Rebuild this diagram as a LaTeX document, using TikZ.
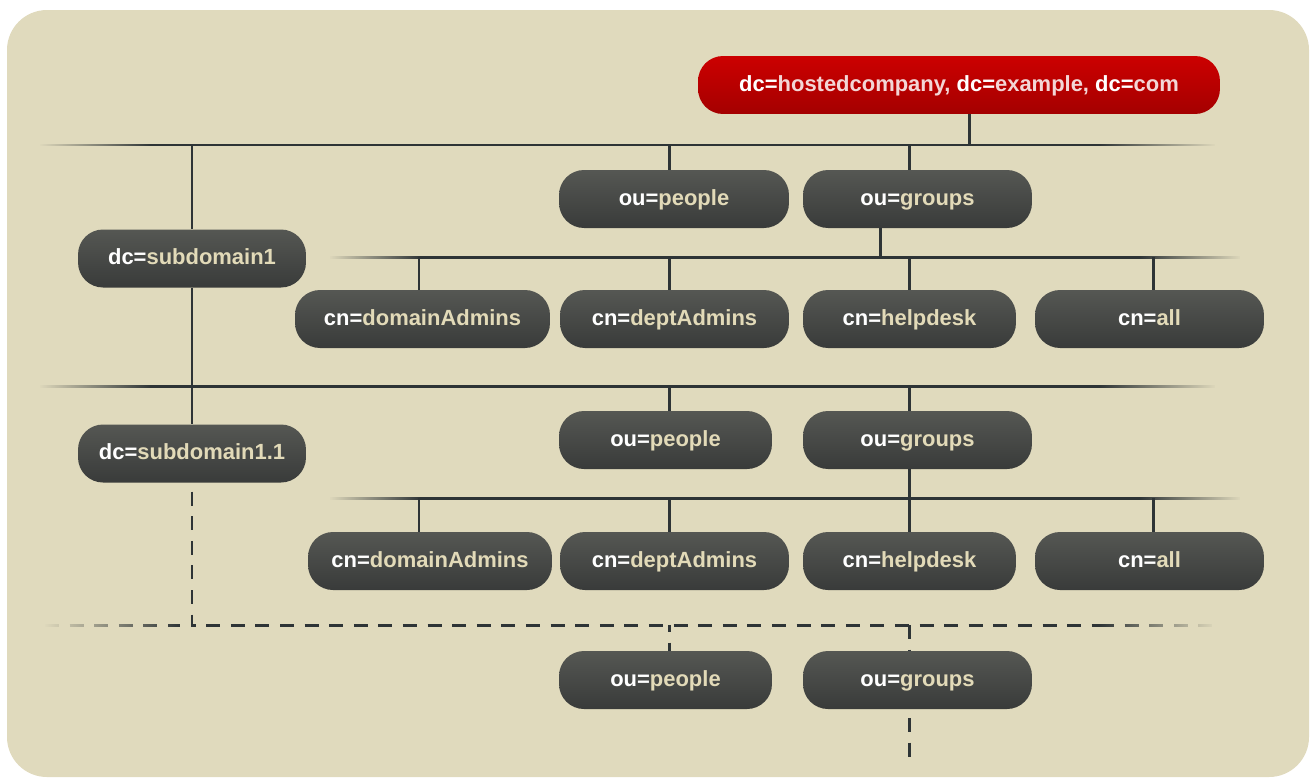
\documentclass[tikz,border=0pt]{standalone}
\usepackage{fontspec}
\setmainfont{Liberation Sans}
\usetikzlibrary{positioning, fadings}
\definecolor{ldapbg}{HTML}{E0DABD}
\definecolor{ldapline}{HTML}{2E3436}
\definecolor{ldaptop}{HTML}{555753}
\definecolor{ldapbot}{HTML}{393B3A}
\definecolor{ldapred}{HTML}{CC0000}
\definecolor{ldapdred}{HTML}{A40000}
\definecolor{ldaptext}{HTML}{E2DAB8}
\definecolor{ldappink}{HTML}{F3D6D6}

\newcommand{\rdn}[2]{\textcolor{white}{#1=}#2}

\begin{document}
\begin{tikzpicture}[x=0.02cm, y=-0.02cm,
    entry/.style={rounded corners=0.5cm, minimum height=1.16cm, inner sep=0pt,
        top color=ldaptop, bottom color=ldapbot, text=ldaptext,
        text height=9.5pt, text depth=2.5pt,
        font=\fontsize{12.5}{15}\selectfont\bfseries},
    rootentry/.style={entry, top color=ldapred, bottom color=ldapdred, text=ldappink},
    link/.style={draw=ldapline, line width=1.7pt},
    dashlink/.style={link, dash pattern=on 8pt off 6pt},
]
    \useasboundingbox (0,0) rectangle (1311,778);
    \fill[ldapbg, rounded corners=0.8cm] (7,10) rectangle (1309,777);

    % columns and bus levels
    \coordinate (xA) at (192,0);
    \coordinate (xB) at (419,0);
    \coordinate (xC) at (669,0);
    \coordinate (xD) at (909,0);
    \coordinate (xE) at (1153,0);
    \coordinate (xG) at (880,0);
    \coordinate (xR) at (969,0);
    \coordinate (busA) at (0,145);
    \coordinate (busB) at (0,257);
    \coordinate (busC) at (0,386);
    \coordinate (busD) at (0,498);
    \coordinate (busE) at (0,625);

    % root
    \node[rootentry, minimum width=10.44cm] (root) at (959,85)
        {\rdn{dc}{hostedcompany}, \rdn{dc}{example}, \rdn{dc}{com}};

    % first level
    \node[entry, minimum width=4.56cm] (sub1) at (192,258.5) {\rdn{dc}{subdomain1}};
    \node[entry, minimum width=4.6cm] (people1) at (674,199) {\rdn{ou}{people}};
    \node[entry, minimum width=4.58cm] (groups1) at (917.5,199) {\rdn{ou}{groups}};
    \node[entry, minimum width=5.1cm] (dadmins1) at (422.5,319) {\rdn{cn}{domainAdmins}};
    \node[entry, minimum width=4.58cm] (deptadm1) at (674.5,319) {\rdn{cn}{deptAdmins}};
    \node[entry, minimum width=4.26cm] (helpdesk1) at (909.5,319) {\rdn{cn}{helpdesk}};
    \node[entry, minimum width=4.58cm] (all1) at (1149.5,319) {\rdn{cn}{all}};

    % second level
    \node[entry, minimum width=4.56cm] (sub2) at (192,453.5) {\rdn{dc}{subdomain1.1}};
    \node[entry, minimum width=4.26cm] (people2) at (665.5,440) {\rdn{ou}{people}};
    \node[entry, minimum width=4.58cm] (groups2) at (917.5,440) {\rdn{ou}{groups}};
    \node[entry, minimum width=4.88cm] (dadmins2) at (430,561) {\rdn{cn}{domainAdmins}};
    \node[entry, minimum width=4.58cm] (deptadm2) at (674.5,561) {\rdn{cn}{deptAdmins}};
    \node[entry, minimum width=4.26cm] (helpdesk2) at (909.5,561) {\rdn{cn}{helpdesk}};
    \node[entry, minimum width=4.58cm] (all2) at (1149.5,561) {\rdn{cn}{all}};

    % third level
    \node[entry, minimum width=4.26cm] (people3) at (665.5,680) {\rdn{ou}{people}};
    \node[entry, minimum width=4.58cm] (groups3) at (917.5,680) {\rdn{ou}{groups}};
    \coordinate (tail) at (909,765);

    % buses
    \draw[link, path fading=west] (40,145) -- (150,145);
    \draw[link] (150,145) -- (1100,145);
    \draw[link, path fading=east] (1100,145) -- (1215,145);
    \draw[link, path fading=west] (330,257) -- (420,257);
    \draw[link] (420,257) -- (1140,257);
    \draw[link, path fading=east] (1140,257) -- (1240,257);
    \draw[link, path fading=west] (40,386) -- (150,386);
    \draw[link] (150,386) -- (1100,386);
    \draw[link, path fading=east] (1100,386) -- (1215,386);
    \draw[link, path fading=west] (330,498) -- (420,498);
    \draw[link] (420,498) -- (1140,498);
    \draw[link, path fading=east] (1140,498) -- (1240,498);
    \draw[dashlink, path fading=west] (45,625) -- (180,625);
    \draw[dashlink, path fading=east] (1100,625) -- (1215,625);

    % links
    \draw[link] (root.south -| xR) -- (busA -| xR);
    \draw[link] (busA -| xA) -- (sub1.north);
    \draw[link] (busA -| xC) -- (people1.north -| xC);
    \draw[link] (busA -| xD) -- (groups1.north -| xD);
    \draw[link] (groups1.south -| xG) -- (busB -| xG);
    \draw[link] (busB -| xB) -- (dadmins1.north -| xB);
    \draw[link] (busB -| xC) -- (deptadm1.north -| xC);
    \draw[link] (busB -| xD) -- (helpdesk1.north -| xD);
    \draw[link] (busB -| xE) -- (all1.north -| xE);
    \draw[link] (sub1.south) -- (sub2.north);
    \draw[link] (busC -| xC) -- (people2.north -| xC);
    \draw[link] (busC -| xD) -- (groups2.north -| xD);
    \draw[link] (groups2.south -| xD) -- (busD -| xD);
    \draw[link] (busD -| xB) -- (dadmins2.north -| xB);
    \draw[link] (busD -| xC) -- (deptadm2.north -| xC);
    \draw[link] (busD -| xD) -- (helpdesk2.north -| xD);
    \draw[link] (busD -| xE) -- (all2.north -| xE);

    % dashed continuation
    \draw[dashlink, dash phase=-5pt] (sub2.south) -- (busE -| xA) -- (busE -| 1100,0);
    \draw[dashlink, dash phase=4pt] (busE -| xC) -- (people3.north -| xC);
    \draw[dashlink] (busE -| xD) -- (groups3.north -| xD);
    \draw[dashlink, dash phase=-5pt] (groups3.south -| xD) -- (tail);
\end{tikzpicture}
\end{document}
